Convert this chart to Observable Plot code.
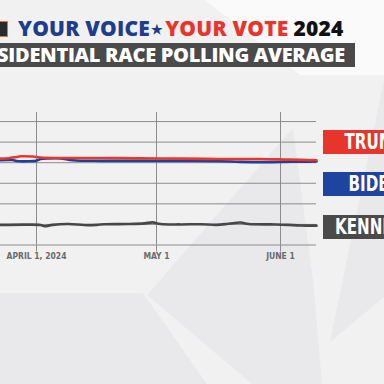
<!DOCTYPE html>
<html><head><meta charset="utf-8">
<script src="https://cdn.jsdelivr.net/npm/d3@7"></script>
<script src="https://cdn.jsdelivr.net/npm/@observablehq/plot@0.6"></script>
<style>
html,body{margin:0;padding:0}
body{width:384px;height:384px;overflow:hidden;position:relative;background:#f1f1f2;font-family:"Open Sans",sans-serif}
.poly{position:absolute;left:0;top:0;width:384px;height:384px}
#logo{position:absolute;left:-6px;top:21px;width:12px;height:14px;background:#2b2b2b;border:1px solid #d9744c}
#title{position:absolute;left:18px;top:18px;font-size:21px;line-height:21px;font-weight:800;white-space:nowrap;letter-spacing:0.2px}
#title .blue{color:#1e3d8c}
#title .star{color:#1e3d8c;font-size:13px;margin:0 2px 0 1px;vertical-align:2px}
#title .red{color:#e8352c}
#title .blk{color:#111;margin-left:5px}
#bar{position:absolute;left:0;top:43px;width:355px;height:24px;background:#4a4a4a;overflow:hidden}
#bar span{position:absolute;right:10px;top:0;line-height:24px;color:#fff;font-size:20px;font-weight:800;white-space:nowrap;letter-spacing:-0.3px}
#chart{position:absolute;left:0;top:100px}
#legend .box{position:absolute;left:323px;width:104px;height:24px;line-height:24px;text-align:center;color:#fff;font-family:"Liberation Sans Narrow","DejaVu Sans Condensed",sans-serif;font-weight:bold;font-size:21px;white-space:nowrap}
#legend .box span{display:inline-block;transform:scaleX(0.8);transform-origin:center}
#chart text{font-family:"Liberation Sans Narrow","DejaVu Sans Condensed",sans-serif;font-weight:bold}
</style></head><body>
<div class="poly" style="background:#fafafa;clip-path:polygon(205px 0,384px 0,384px 75px,300px 75px)"></div>
<div class="poly" style="background:#e9e9eb;clip-path:polygon(293px 128px,313px 280px,322px 384px,252px 384px,147px 295px)"></div>
<div class="poly" style="background:#e9e9eb;clip-path:polygon(0 293px,143px 293px,207px 384px,0 384px)"></div>
<div class="poly" style="background:#e9e9eb;clip-path:polygon(384px 80px,330px 342px,384px 297px)"></div>
<div id="logo"></div>
<div id="title"><span class="blue">YOUR VOICE</span><span class="star">★</span><span class="red">YOUR VOTE</span><span class="blk">2024</span></div>
<div id="bar"><span>PRESIDENTIAL RACE POLLING AVERAGE</span></div>
<div id="chart"></div>
<div id="legend"></div>
<script>
// ---- data ----
const trumpDates  = ["2024-03-23","2024-03-25","2024-03-27","2024-03-28","2024-03-31","2024-04-02","2024-04-07","2024-04-17","2024-04-27","2024-05-07","2024-05-17","2024-05-27","2024-06-03","2024-06-10"];
const trumpValues = [42.0,42.2,42.8,43.1,43.0,42.5,42.3,42.3,42.1,42.0,41.8,41.8,41.5,41.2];

const bidenDates  = ["2024-03-23","2024-03-26","2024-03-27","2024-03-30","2024-04-01","2024-04-02","2024-04-04","2024-04-07","2024-04-10","2024-04-17","2024-04-27","2024-05-07","2024-05-17","2024-05-22","2024-05-30","2024-06-06","2024-06-10"];
const bidenValues = [41.2,41.3,40.8,40.7,41.0,41.8,42.1,42.1,41.2,40.9,40.9,40.9,40.7,40.4,40.3,40.5,40.6];

const kennedyDates  = ["2024-03-23","2024-03-30","2024-04-02","2024-04-03","2024-04-05","2024-04-09","2024-04-13","2024-04-16","2024-04-18","2024-04-24","2024-04-28","2024-04-30","2024-05-02","2024-05-07","2024-05-12","2024-05-16","2024-05-19","2024-05-22","2024-05-24","2024-05-31","2024-06-03","2024-06-06","2024-06-10"];
const kennedyValues = [9.8,9.9,9.7,9.1,9.8,10.2,9.7,9.8,10.1,10.2,10.5,11.0,10.2,10.0,10.1,9.8,10.3,10.9,10.2,10.0,9.8,9.5,9.4];

const candidates = ["TRUMP","BIDEN","KENNEDY"];
const candidateColors = ["#e8352c","#1d449e","#4a4a4a"];
const lineColors = ["#e8382e","#213f98","#474747"];

const xTickDates = ["2024-04-01","2024-05-01","2024-06-01"];
const xTickLabels = ["APRIL 1, 2024","MAY 1","JUNE 1"];
const yGrid = [0,10,20,30,40,50,60];
const xDomain = ["2024-03-23","2024-06-10"];
const yDomain = [0,64.4];

// ---- build ----
const toRows = (dates, vals) => dates.map((d,i)=>({date:new Date(d), v:vals[i]}));
const trump = toRows(trumpDates, trumpValues);
const biden = toRows(bidenDates, bidenValues);
const kennedy = toRows(kennedyDates, kennedyValues);
const xTicks = xTickDates.map(d=>new Date(d));
const labelFor = new Map(xTicks.map((d,i)=>[+d, xTickLabels[i]]));

const chart = Plot.plot({
  width: 316, height: 170,
  marginLeft: 0, marginRight: 0, marginTop: 12, marginBottom: 25.5,
  style: {background: "transparent", overflow: "visible"},
  x: {type: "utc", domain: xDomain.map(d=>new Date(d))},
  y: {domain: yDomain, axis: null},
  marks: [
    Plot.ruleY(yGrid, {stroke: "#8c8c8c", strokeWidth: 1}),
    Plot.ruleX(xTicks, {stroke: "#8c8c8c", strokeWidth: 1}),
    Plot.axisX({ticks: xTicks, tickFormat: d => labelFor.get(+d), tickSize: 7, tickPadding: 1,
      stroke: "#8c8c8c", fill: "#6a6a6a", fontSize: 8.5, label: null}),
    Plot.line(kennedy, {x: "date", y: "v", stroke: lineColors[2], strokeWidth: 2.6, curve: "catmull-rom"}),
    Plot.line(biden, {x: "date", y: "v", stroke: lineColors[1], strokeWidth: 2.6, curve: "catmull-rom"}),
    Plot.line(trump, {x: "date", y: "v", stroke: lineColors[0], strokeWidth: 2.6, curve: "catmull-rom"})
  ]
});
document.getElementById("chart").appendChild(chart);

const legendTops = [130, 172, 215];
const legend = document.getElementById("legend");
candidates.forEach((name, i) => {
  const b = document.createElement("div");
  b.className = "box";
  b.style.top = legendTops[i] + "px";
  b.style.background = candidateColors[i];
  const s = document.createElement("span");
  s.textContent = name;
  b.appendChild(s);
  legend.appendChild(b);
});
</script>
</body></html>
